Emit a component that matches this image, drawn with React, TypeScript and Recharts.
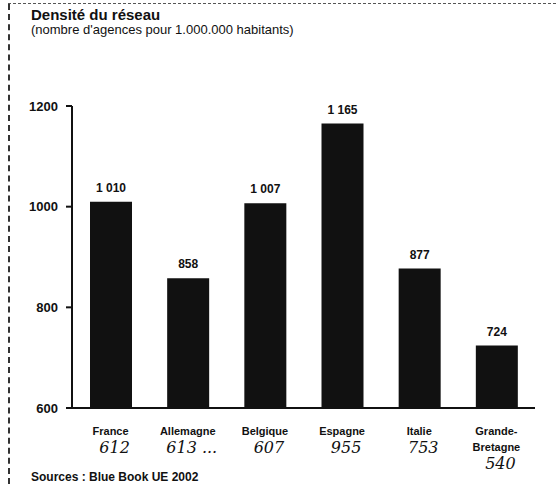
import React from 'react';
import { BarChart, Bar, XAxis, YAxis, LabelList } from 'recharts';

const countries = ['France', 'Allemagne', 'Belgique', 'Espagne', 'Italie', 'Grande-Bretagne'];
const agencies = [1010, 858, 1007, 1165, 877, 724];
// handwritten notes under each country on the scanned page
const notes = ['612', '613 ...', '607', '955', '753', '540'];
const yTicks = [600, 800, 1000, 1200];

const data = countries.map((name, i) => ({ name, value: agencies[i], note: notes[i] }));

const FONT = '"Liberation Sans", Arial, sans-serif';

const fmt = (v: number) => (v >= 1000 ? `${Math.floor(v / 1000)} ${String(v % 1000).padStart(3, '0')}` : String(v));

const CountryTick = (props: any) => {
  const { x, y, payload, index } = props;
  const name: string = payload.value;
  const lines = name === 'Grande-Bretagne' ? ['Grande-', 'Bretagne'] : [name];
  const note = notes[index] ?? '';
  return (
    <g>
      {lines.map((l, i) => (
        <text key={l} x={x} y={y + 25 + i * 16} textAnchor="middle" fontFamily={FONT} fontSize={11} fontWeight={700} fill="#111">
          {l}
        </text>
      ))}
      <text x={x + 4} y={y + 25 + lines.length * 16 + 2} textAnchor="middle" fontFamily='"DejaVu Serif", serif' fontStyle="italic" fontSize={16} fill="#111">
        {note}
      </text>
    </g>
  );
};

const ValueLabel = (props: any) => {
  const { x, y, width, value } = props;
  return (
    <text x={x + width / 2} y={y - 10} textAnchor="middle" fontFamily={FONT} fontSize={12} fontWeight={700} fill="#111">
      {fmt(Number(value))}
    </text>
  );
};

const App: React.FC = () => {
  return (
    <div style={{ position: 'absolute', left: 0, top: 0, width: 556, height: 486, background: '#fff', overflow: 'hidden' }}>
      <div style={{ position: 'absolute', left: 8, top: 4, width: 0, height: 480, borderLeft: '2px dashed #333' }} />
      <div style={{ position: 'absolute', left: 8, top: 3, width: 548, height: 0, borderTop: '1px dashed #555' }} />
      <div style={{ position: 'absolute', left: 31, top: 6, fontFamily: FONT, fontWeight: 700, fontSize: 15, color: '#111' }}>
        Densité du réseau
      </div>
      <div style={{ position: 'absolute', left: 31, top: 22, fontFamily: FONT, fontSize: 13, color: '#111' }}>
        (nombre d'agences pour 1.000.000 habitants)
      </div>
      <BarChart
        width={556}
        height={486}
        data={data}
        margin={{ top: 106, right: 21, bottom: 48, left: 0 }}
      >
        <XAxis
          dataKey="name"
          height={30}
          axisLine={{ stroke: '#111', strokeWidth: 2 }}
          tickLine={false}
          tickSize={0}
          interval={0}
          tick={<CountryTick />}
        />
        <YAxis
          width={72}
          domain={[600, 1200]}
          ticks={yTicks}
          allowDataOverflow
          axisLine={{ stroke: '#111', strokeWidth: 2 }}
          tickLine={{ stroke: '#111', strokeWidth: 2 }}
          tickSize={6}
          tickMargin={8}
          tick={{ fontFamily: FONT, fontSize: 13, fontWeight: 700, fill: '#111' }}
        />
        <Bar dataKey="value" fill="#111" barSize={42} isAnimationActive={false}>
          <LabelList dataKey="value" content={<ValueLabel />} />
        </Bar>
      </BarChart>
      <div style={{ position: 'absolute', left: 31, top: 470, fontFamily: FONT, fontWeight: 700, fontSize: 12, color: '#111' }}>
        Sources : Blue Book UE 2002
      </div>
    </div>
  );
};

export default App;
